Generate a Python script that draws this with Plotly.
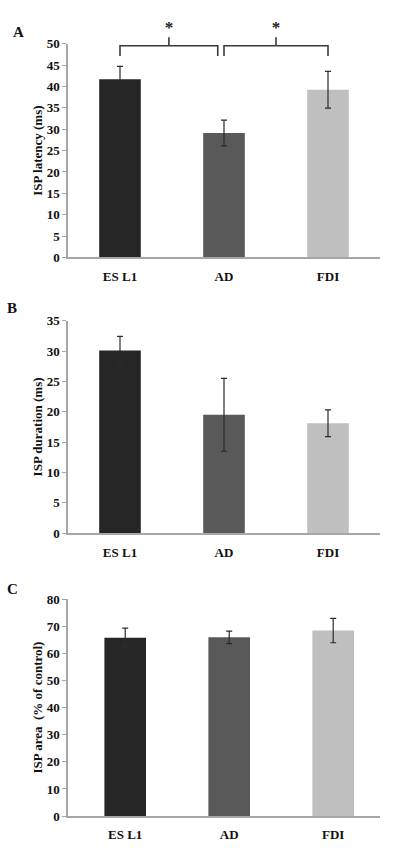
import plotly.graph_objects as go

# ---------------- data ----------------
categories = ["ES L1", "AD", "FDI"]
bar_colors = ["#262626", "#595959", "#BFBFBF"]

latency_mean = [41.7, 29.1, 39.2]
latency_err = [3.0, 3.0, 4.3]

duration_mean = [30.1, 19.5, 18.1]
duration_err = [2.3, 6.0, 2.2]

area_mean = [65.7, 65.9, 68.4]
area_err = [3.6, 2.3, 4.5]

latency_ticks = [0, 5, 10, 15, 20, 25, 30, 35, 40, 45, 50]
duration_ticks = [0, 5, 10, 15, 20, 25, 30, 35]
area_ticks = [0, 10, 20, 30, 40, 50, 60, 70, 80]

# significance brackets in panel A (category index pairs)
sig_pairs = [(0, 0.94), (1.0, 2.0)]
sig_labels = ["*", "*"]
sig_leg_bottom = 47.1
sig_level = 49.5
sig_stem_top = 51.5
sig_star_y = 53.4

# ---------------- layout helpers ----------------
W, H = 393, 848
FONT = "Liberation Serif"
AXIS_GRAY = "#A6A6A6"
x_pos = list(range(len(categories)))
A_PX_PER_UNIT = (255 - 37.3) / 50
SIG_AXIS_TOP = 58


def px_x(p):
    return p / W


def px_y(p):
    return 1 - p / H


fig = go.Figure()

panels = [
    ("x", "y", latency_mean, latency_err),
    ("x2", "y2", duration_mean, duration_err),
    ("x3", "y3", area_mean, area_err),
]
for xa, ya, mean, err in panels:
    fig.add_trace(go.Bar(
        x=x_pos, y=mean, xaxis=xa, yaxis=ya, width=0.4,
        marker=dict(color=bar_colors, line=dict(width=0)),
        error_y=dict(type="data", array=err, visible=True,
                     color="#2B2B2B", thickness=1.2, width=3),
        showlegend=False, hoverinfo="skip",
    ))

# significance brackets on a hidden overlay subplot (same scale as panel A)
for (a, b), lab in zip(sig_pairs, sig_labels):
    mid = (a + b) / 2
    fig.add_trace(go.Scatter(
        x=[a, a, b, b], y=[sig_leg_bottom, sig_level, sig_level, sig_leg_bottom],
        mode="lines", line=dict(color="#3A3A3A", width=1.6),
        xaxis="x4", yaxis="y4", showlegend=False, hoverinfo="skip"))
    fig.add_trace(go.Scatter(
        x=[mid, mid], y=[sig_level, sig_stem_top],
        mode="lines", line=dict(color="#3A3A3A", width=1.6),
        xaxis="x4", yaxis="y4", showlegend=False, hoverinfo="skip"))
    fig.add_trace(go.Scatter(
        x=[mid], y=[sig_star_y], mode="text", text=[lab], cliponaxis=False,
        textfont=dict(family=FONT, size=17, color="#222222", weight="bold"),
        xaxis="x4", yaxis="y4", showlegend=False, hoverinfo="skip"))

xdom = [px_x(68), px_x(380)]
tickfont = dict(family=FONT, size=13, color="#111111", weight="bold")
titlefont = dict(family=FONT, size=13, color="#111111", weight="bold")

common_x = dict(
    domain=xdom, tickvals=x_pos, ticktext=categories,
    showline=True, linecolor=AXIS_GRAY, linewidth=1.5,
    ticks="", showgrid=False, zeroline=False, tickfont=tickfont,
    ticklabelstandoff=6, fixedrange=True,
)
common_y = dict(
    showline=True, linecolor=AXIS_GRAY, linewidth=1.5,
    ticks="outside", ticklen=4, tickcolor=AXIS_GRAY, tickwidth=1,
    showgrid=False, zeroline=False, tickfont=tickfont, fixedrange=True,
)

fig.update_layout(
    width=W, height=H,
    margin=dict(l=0, r=0, t=0, b=0),
    paper_bgcolor="white", plot_bgcolor="rgba(0,0,0,0)",
    font=dict(family=FONT),
    bargap=0.6,
    xaxis=dict(common_x, anchor="y", range=[-0.5, 2.5]),
    yaxis=dict(common_y, anchor="x", domain=[px_y(255), px_y(37.3)],
               range=[0, 50], tickvals=latency_ticks,
               title=dict(text="ISP latency (ms)", font=titlefont, standoff=1)),
    xaxis2=dict(common_x, anchor="y2", range=[-0.5, 2.5]),
    yaxis2=dict(common_y, anchor="x2", domain=[px_y(535.7), px_y(319.3)],
                range=[0, 35], tickvals=duration_ticks,
                title=dict(text="ISP duration (ms)", font=titlefont, standoff=1)),
    xaxis3=dict(common_x, anchor="y3", range=[-0.55, 2.45]),
    yaxis3=dict(common_y, anchor="x3", domain=[px_y(823.7), px_y(602.7)],
                range=[0, 80], tickvals=area_ticks,
                title=dict(text="ISP area  (% of control)", font=titlefont, standoff=1)),
    xaxis4=dict(domain=xdom, range=[-0.5, 2.5], visible=False, anchor="y4",
                fixedrange=True),
    yaxis4=dict(domain=[px_y(255), px_y(255 - SIG_AXIS_TOP * A_PX_PER_UNIT)],
                range=[0, SIG_AXIS_TOP], visible=False, anchor="x4",
                fixedrange=True),
)

panel_letters = [("A", 18, 25), ("B", 12, 306), ("C", 13, 592)]
for letter, lx, ly in panel_letters:
    fig.add_annotation(
        text=letter, xref="paper", yref="paper", x=px_x(lx), y=px_y(ly),
        xanchor="center", yanchor="middle", showarrow=False,
        font=dict(family=FONT, size=15, color="#111111", weight="bold"))

fig.write_html("out.html")
